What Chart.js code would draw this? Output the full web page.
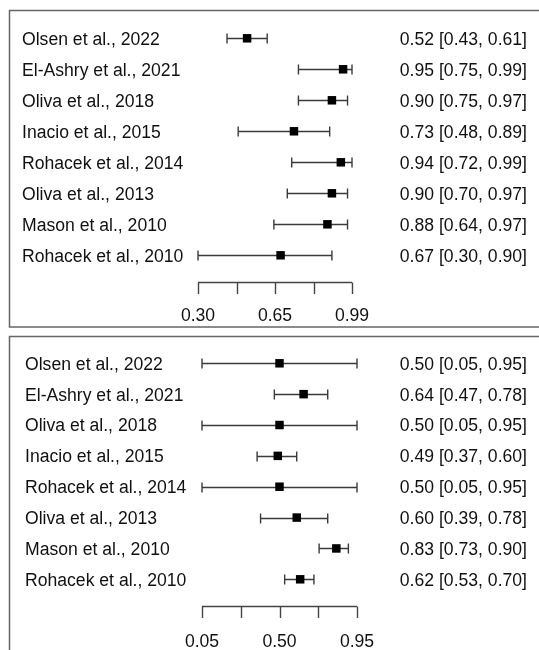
<!DOCTYPE html>
<html>
<head>
<meta charset="utf-8">
<script src="https://cdn.jsdelivr.net/npm/chart.js@4/dist/chart.umd.min.js"></script>
<style>
  body { margin: 0; background: #fff; }
  .wrap { position: relative; width: 539px; height: 650px; overflow: hidden; }
  canvas { position: absolute; left: 0; }
  #topChart { top: 0; }
  #bottomChart { top: 332px; }
</style>
</head>
<body>
<div class="wrap">
  <canvas id="topChart" width="539" height="332"></canvas>
  <canvas id="bottomChart" width="539" height="318"></canvas>
</div>
<script>
const studies = [
  "Olsen et al., 2022",
  "El-Ashry et al., 2021",
  "Oliva et al., 2018",
  "Inacio et al., 2015",
  "Rohacek et al., 2014",
  "Oliva et al., 2013",
  "Mason et al., 2010",
  "Rohacek et al., 2010",
];

// top panel
const topEst = [0.52, 0.95, 0.90, 0.73, 0.94, 0.90, 0.88, 0.67];
const topLow = [0.43, 0.75, 0.75, 0.48, 0.72, 0.70, 0.64, 0.30];
const topHigh = [0.61, 0.99, 0.97, 0.89, 0.99, 0.97, 0.97, 0.90];
const topTicks = [0.30, 0.4725, 0.645, 0.8175, 0.99];
const topTickLabels = ["0.30", "", "0.65", "", "0.99"];

// bottom panel
const bottomEst = [0.50, 0.64, 0.50, 0.49, 0.50, 0.60, 0.83, 0.62];
const bottomLow = [0.05, 0.47, 0.05, 0.37, 0.05, 0.39, 0.73, 0.53];
const bottomHigh = [0.95, 0.78, 0.95, 0.60, 0.95, 0.78, 0.90, 0.70];
const bottomTicks = [0.05, 0.275, 0.50, 0.725, 0.95];
const bottomTickLabels = ["0.05", "", "0.50", "", "0.95"];

const FONT = '17.6px "Liberation Sans", Arial, sans-serif';

function fmt(v) {
  return v.toFixed(2);
}

// draws whiskers, text columns, box and the bracket axis
const forestPlugin = {
  id: "forest",
  beforeDatasetsDraw(chart, args, opts) {
    const ctx = chart.ctx;
    const x = chart.scales.x;
    const y = chart.scales.y;
    ctx.save();
    ctx.strokeStyle = "#3a3a3a";
    ctx.lineWidth = 1.4;
    opts.low.forEach((lo, i) => {
      const py = Math.round(y.getPixelForValue(i)) + 0.5;
      const x1 = x.getPixelForValue(lo);
      const x2 = x.getPixelForValue(opts.high[i]);
      ctx.beginPath();
      ctx.moveTo(x1, py);
      ctx.lineTo(x2, py);
      ctx.moveTo(x1, py - 5);
      ctx.lineTo(x1, py + 5);
      ctx.moveTo(x2, py - 5);
      ctx.lineTo(x2, py + 5);
      ctx.stroke();
    });
    ctx.restore();
  },
  afterDraw(chart, args, opts) {
    const ctx = chart.ctx;
    const x = chart.scales.x;
    const y = chart.scales.y;
    const area = chart.chartArea;
    ctx.save();

    // box
    ctx.strokeStyle = "#666";
    ctx.lineWidth = 1.5;
    ctx.strokeRect(opts.box[0], opts.box[1], opts.box[2], opts.box[3]);

    // text columns
    ctx.fillStyle = "#111";
    ctx.font = FONT;
    ctx.textBaseline = "middle";
    studies.forEach((name, i) => {
      const py = y.getPixelForValue(i) + 1.5;
      ctx.textAlign = "left";
      ctx.fillText(name, opts.labelX, py);
      ctx.textAlign = "right";
      const txt = `${fmt(opts.est[i])} [${fmt(opts.low[i])}, ${fmt(opts.high[i])}]`;
      ctx.fillText(txt, 527, py);
    });

    // axis
    const ay = Math.round(area.bottom + 26.5) + 0.5;
    ctx.strokeStyle = "#444";
    ctx.lineWidth = 1.4;
    ctx.beginPath();
    ctx.moveTo(x.getPixelForValue(opts.ticks[0]), ay);
    ctx.lineTo(x.getPixelForValue(opts.ticks[opts.ticks.length - 1]), ay);
    opts.ticks.forEach((t) => {
      const px = Math.round(x.getPixelForValue(t)) + 0.5;
      ctx.moveTo(px, ay);
      ctx.lineTo(px, ay + 11.5);
    });
    ctx.stroke();

    ctx.textAlign = "center";
    opts.ticks.forEach((t, i) => {
      if (!opts.tickLabels[i]) return;
      ctx.fillText(opts.tickLabels[i], x.getPixelForValue(t), area.bottom + opts.tickLabelOffset);
    });
    ctx.restore();
  },
};

function makeForest(canvasId, est, low, high, ticks, tickLabels, layout) {
  const ctx = document.getElementById(canvasId);
  const points = est.map((v, i) => ({ x: v, y: i }));

  return new Chart(ctx, {
    type: "scatter",
    data: {
      datasets: [
        {
          data: points,
          pointStyle: "rect",
          pointRadius: 6,
          pointHoverRadius: 6,
          backgroundColor: "#000",
          borderColor: "#000",
          borderWidth: 0,
          clip: false,
        },
      ],
    },
    options: {
      responsive: false,
      animation: false,
      devicePixelRatio: 1,
      layout: { padding: layout.padding },
      scales: {
        x: { type: "linear", min: ticks[0], max: ticks[ticks.length - 1], display: false },
        y: { type: "linear", min: 0, max: est.length - 1, reverse: true, display: false },
      },
      plugins: {
        legend: { display: false },
        tooltip: { enabled: false },
        forest: {
          est: est,
          low: low,
          high: high,
          ticks: ticks,
          tickLabels: tickLabels,
          labelX: layout.labelX,
          box: layout.box,
          tickLabelOffset: layout.tickLabelOffset,
        },
      },
    },
    plugins: [forestPlugin],
  });
}

makeForest("topChart", topEst, topLow, topHigh, topTicks, topTickLabels, {
  padding: { left: 198, right: 187, top: 38.3, bottom: 76.7 },
  labelX: 22,
  box: [9.5, 10.5, 560, 316.5],
  tickLabelOffset: 61,
});

makeForest("bottomChart", bottomEst, bottomLow, bottomHigh, bottomTicks, bottomTickLabels, {
  padding: { left: 202, right: 182, top: 31.3, bottom: 70.7 },
  labelX: 25,
  box: [9.5, 4.5, 560, 400],
  tickLabelOffset: 62.5,
});
</script>
</body>
</html>
